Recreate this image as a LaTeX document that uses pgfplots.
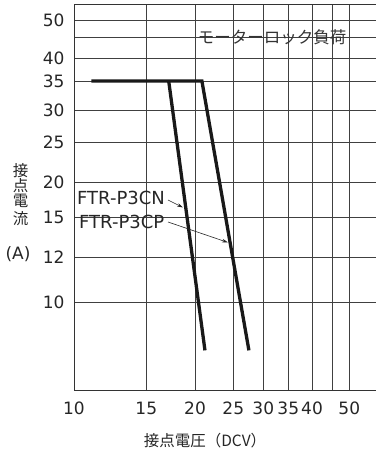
\documentclass[border=0pt]{standalone}
\usepackage{fontspec}
\setmainfont{DejaVu Sans}
\newfontfamily\jp{Noto Sans CJK JP}
\usepackage{pgfplots}
\pgfplotsset{compat=1.18}
\usetikzlibrary{arrows.meta}
\begin{document}
\begin{tikzpicture}[x=1pt,y=1pt]
\path[use as bounding box] (0,0) rectangle (375,455);
\begin{axis}[
  at={(74pt,64.3pt)}, anchor=south west,
  scale only axis, width=302pt, height=385.7pt,
  x coord trafo/.code={\pgfmathparse{#1<15 ? (#1-10)*14.46 : (#1<20 ? 72.3+(#1-15)*9.74 : (#1<25 ? 121+(#1-20)*7.66 : (#1<30 ? 159.3+(#1-25)*6.0 : (#1<35 ? 189.3+(#1-30)*5.0 : (#1<40 ? 214.3+(#1-35)*4.74 : (#1<45 ? 238+(#1-40)*4.06 : 258.3+(#1-45)*3.4))))))}},
  y coord trafo/.code={\pgfmathparse{#1<12 ? 88+(#1-10)*22.7 : (#1<15 ? 133.4+(#1-12)*13.2 : (#1<20 ? 173+(#1-15)*7 : (#1<25 ? 208+(#1-20)*8.08 : (#1<30 ? 248.4+(#1-25)*6.46 : (#1<35 ? 280.7+(#1-30)*5.8 : (#1<40 ? 309.7+(#1-35)*4.54 : (#1<45 ? 332.4+(#1-40)*4.2 : 353.4+(#1-45)*3.46)))))))}},
  xmin=10, xmax=57.85, ymin=6.1233, ymax=54.33,
  xtick={10,15,20,25,30,35,40,45,50},
  xticklabels={10,15,20,25,30,35,40,,50},
  ytick={10,12,15,20,25,30,35,40,45,50},
  yticklabels={10,12,15,20,25,30,35,40,,50},
  grid=major,
  grid style={black!75, line width=0.75pt},
  axis line style={black!80, line width=1pt},
  major tick length=0pt,
  /pgf/number format/assume math mode=true,
  tick label style={font=\fontsize{17}{20}\selectfont, text=black!85},
  yticklabel style={xshift=-6pt},
  xticklabel style={yshift=-8pt},
]
\addplot[black!90, line width=3.3pt, line join=miter] coordinates {(11.2,35) (20.9,35) (27.6,7.9)};
\addplot[black!90, line width=3.3pt] coordinates {(17.3,35) (21.3,7.9)};
\end{axis}
\node[font=\jp\fontsize{16.5}{18}\selectfont, text=black!80] at (272,417.5) {モーターロック負荷};
\node[anchor=west, inner sep=0pt, font=\fontsize{18}{20}\selectfont, text=black!85] at (77,256.7) {FTR-P3CN};
\node[anchor=west, inner sep=0pt, font=\fontsize{18}{20}\selectfont, text=black!85] at (79,233.3) {FTR-P3CP};
\draw[-{Stealth[length=6pt,width=3.5pt]}, line width=0.6pt, black!85] (168,255) -- (183,247.5);
\draw[-{Stealth[length=6pt,width=3.5pt]}, line width=0.6pt, black!85] (168,233) -- (228,212.5);
\begin{scope}[every node/.style={font=\jp\fontsize{15.5}{16}\selectfont, text=black!85, inner sep=0pt}]
\node at (20.5,284.2) {接};
\node at (20.5,269.2) {点};
\node at (20.5,254.2) {電};
\node at (20.5,236.7) {流};
\node at (205,14) {接点電圧（DCV）};
\end{scope}
\node[font=\fontsize{17}{20}\selectfont, text=black!85, inner sep=0pt] at (18,201) {(A)};
\end{tikzpicture}
\end{document}
